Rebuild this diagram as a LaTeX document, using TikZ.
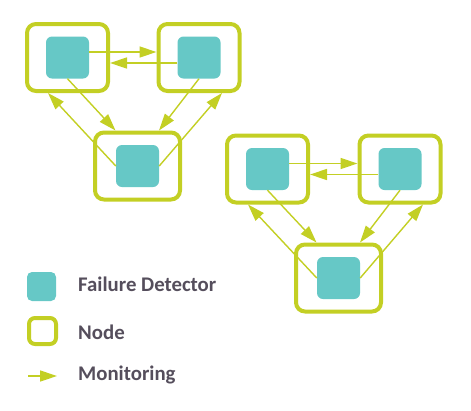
\documentclass[tikz,border=0pt]{standalone}
\usepackage{fontspec}
\setmainfont{Carlito}
\usetikzlibrary{arrows.meta,calc}
\definecolor{nodegreen}{HTML}{C3CF24}
\definecolor{fdteal}{HTML}{66C8C6}
\definecolor{txtgray}{HTML}{554E5C}
\tikzset{
  nodebox/.style={draw=nodegreen, line width=4pt, rounded corners=9pt, fill=white,
    minimum width=81pt, minimum height=67pt, inner sep=0pt},
  fdbox/.style={fill=fdteal, rounded corners=6pt, minimum width=43pt, minimum height=42pt, inner sep=0pt},
  mon/.style={draw=nodegreen, line width=1.4pt, -{Triangle[length=17pt,width=11pt]}},
  legtext/.style={anchor=west, text=txtgray, font=\bfseries\fontsize{20.8}{24}\selectfont, inner sep=0pt}
}
\begin{document}
\begin{tikzpicture}[x=1pt,y=-1pt]
\useasboundingbox (0,0) rectangle (471,410);
% cluster 1
\node[nodebox] (A) at (67.5,57.5) {};
\node[nodebox] (B) at (199,57.5) {};
\node[nodebox, minimum width=85pt] (C) at (137.5,166) {};
\node[fdbox] (Ai) at (A) {};
\node[fdbox] (Bi) at (B) {};
\node[fdbox] (Ci) at (C) {};
\draw[mon] ([yshift=5.5pt]Ai.east) -- ([yshift=5.5pt]B.west);
\draw[mon] ([yshift=-5.5pt]Bi.west) -- ([yshift=-5.5pt]A.east);
\draw[mon] (Ai.south) -- ($(C.north)+(-22,0)$);
\draw[mon] (Bi.south) -- ($(C.north)+(21.5,0)$);
\draw[mon] (Ci.west) -- ($(A.south)+(-19.5,0)$);
\draw[mon] (Ci.east) -- ($(B.south)+(23,0)$);
% cluster 2
\node[nodebox] (D) at (267.5,169) {};
\node[nodebox] (E) at (400,169) {};
\node[nodebox, minimum width=85pt] (F) at (338.5,278) {};
\node[fdbox] (Di) at (D) {};
\node[fdbox] (Ei) at (E) {};
\node[fdbox] (Fi) at (F) {};
\draw[mon] ([yshift=5.5pt]Di.east) -- ([yshift=5.5pt]E.west);
\draw[mon] ([yshift=-5.5pt]Ei.west) -- ([yshift=-5.5pt]D.east);
\draw[mon] (Di.south) -- ($(F.north)+(-22,0)$);
\draw[mon] (Ei.south) -- ($(F.north)+(21.5,0)$);
\draw[mon] (Fi.west) -- ($(D.south)+(-19.5,0)$);
\draw[mon] (Fi.east) -- ($(E.south)+(23,0)$);
% legend
\node[fdbox, minimum width=29pt, minimum height=29pt, rounded corners=5pt] (LF) at (41.5,286.5) {};
\node[nodebox, minimum width=27pt, minimum height=26pt, rounded corners=6pt] (LN) at (42.5,331) {};
\coordinate (LMa) at (28,376);
\coordinate (LMb) at (57,376);
\draw[mon] (LMa) -- (LMb);
\node[legtext] (TF) at (78,284) {Failure Detector};
\node[legtext] (TN) at (78,332) {Node};
\node[legtext] (TM) at (78,374.5) {Monitoring};
\end{tikzpicture}
\end{document}
